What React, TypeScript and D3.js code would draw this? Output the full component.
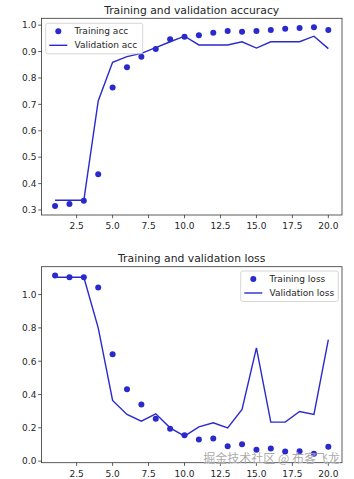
import React from "react";
import * as d3 from "d3";

const epochs = d3.range(1, 21);
const trainAcc = [0.315, 0.323, 0.335, 0.435, 0.764, 0.841, 0.880, 0.910, 0.947, 0.956, 0.962, 0.971, 0.978, 0.975, 0.978, 0.982, 0.986, 0.989, 0.992, 0.982];
const valAcc = [0.337, 0.337, 0.337, 0.713, 0.859, 0.881, 0.893, 0.915, 0.937, 0.958, 0.925, 0.925, 0.925, 0.937, 0.913, 0.937, 0.937, 0.937, 0.958, 0.911];
const trainLoss = [1.114, 1.104, 1.104, 1.042, 0.642, 0.432, 0.34, 0.254, 0.194, 0.156, 0.13, 0.136, 0.09, 0.102, 0.068, 0.076, 0.058, 0.06, 0.044, 0.086];
const valLoss = [1.104, 1.104, 1.104, 0.80, 0.364, 0.28, 0.24, 0.284, 0.2, 0.15, 0.206, 0.23, 0.2, 0.31, 0.68, 0.234, 0.234, 0.298, 0.28, 0.73];
const xTicks = [2.5, 5.0, 7.5, 10.0, 12.5, 15.0, 17.5, 20.0];
const accTicks = [0.3, 0.4, 0.5, 0.6, 0.7, 0.8, 0.9, 1.0];
const lossTicks = [0.0, 0.2, 0.4, 0.6, 0.8, 1.0];

const COLOR = "#2a2acc";
const FONT = "DejaVu Sans";
const TEXT = "#262626";

type PanelProps = {
  top: number;
  height: number;
  title: string;
  train: number[];
  val: number[];
  yTicks: number[];
  labels: [string, string];
  legend: { x: number; y: number; w: number };
};

function Panel({ top, height, title, train, val, yTicks, labels, legend }: PanelProps) {
  const left = 41.4;
  const right = 342;
  const all = train.concat(val);
  const lo = d3.min(all)!;
  const hi = d3.max(all)!;
  const pad = (hi - lo) * 0.05;
  const x = d3.scaleLinear().domain([0.05, 20.95]).range([left, right]);
  const y = d3.scaleLinear().domain([lo - pad, hi + pad]).range([top + height, top]);
  const line = d3
    .line<number>()
    .x((_, i) => x(epochs[i]))
    .y((d) => y(d));
  const bottom = top + height;
  return (
    <g>
      <text x={(left + right) / 2} y={top - 4.5} textAnchor="middle" fontFamily={FONT} fontSize={10.8} fill={TEXT}>
        {title}
      </text>
      <path d={line(val) || ""} fill="none" stroke={COLOR} strokeWidth={1.4} />
      {train.map((d, i) => (
        <circle key={i} cx={x(epochs[i])} cy={y(d)} r={3} fill={COLOR} />
      ))}
      <rect x={left} y={top} width={right - left} height={height} fill="none" stroke="#333" strokeWidth={0.8} />
      {xTicks.map((t) => (
        <g key={t}>
          <line x1={x(t)} x2={x(t)} y1={bottom} y2={bottom + 3.2} stroke="#333" strokeWidth={0.8} />
          <text x={x(t)} y={bottom + 14} textAnchor="middle" fontFamily={FONT} fontSize={9} fill={TEXT}>
            {d3.format(".1f")(t)}
          </text>
        </g>
      ))}
      {yTicks.map((t) => (
        <g key={t}>
          <line x1={left - 3.2} x2={left} y1={y(t)} y2={y(t)} stroke="#333" strokeWidth={0.8} />
          <text x={left - 5} y={y(t) + 3.3} textAnchor="end" fontFamily={FONT} fontSize={9} fill={TEXT}>
            {d3.format(".1f")(t)}
          </text>
        </g>
      ))}
      <g transform={`translate(${legend.x},${legend.y})`}>
        <rect x={0} y={0} width={legend.w} height={30.5} rx={2} fill="white" fillOpacity={0.8} stroke="#cccccc" strokeWidth={0.8} />
        <circle cx={12.6} cy={8} r={3} fill={COLOR} />
        <line x1={3.6} x2={21.6} y1={22} y2={22} stroke={COLOR} strokeWidth={1.4} />
        <text x={28.8} y={11.2} fontFamily={FONT} fontSize={9} fill={TEXT}>
          {labels[0]}
        </text>
        <text x={28.8} y={25.2} fontFamily={FONT} fontSize={9} fill={TEXT}>
          {labels[1]}
        </text>
      </g>
    </g>
  );
}

export default function App() {
  return (
    <svg width={354} height={479} style={{ position: "absolute", left: 0, top: 0, background: "white" }}>
      <rect width={354} height={479} fill="white" />
      <Panel
        top={18.3}
        height={196.7}
        title="Training and validation accuracy"
        train={trainAcc}
        val={valAcc}
        yTicks={accTicks}
        labels={["Training acc", "Validation acc"]}
        legend={{ x: 45.7, y: 23.3, w: 97 }}
      />
      <Panel
        top={266.7}
        height={196}
        title="Training and validation loss"
        train={trainLoss}
        val={valLoss}
        yTicks={lossTicks}
        labels={["Training loss", "Validation loss"]}
        legend={{ x: 240.7, y: 271, w: 97.6 }}
      />
      <text
        x={340}
        y={463}
        textAnchor="end"
        fontFamily="Noto Sans CJK SC"
        fontSize={12}
        fill="#9a9a9a"
        fillOpacity={0.85}
        stroke="white"
        strokeWidth={0.6}
        strokeOpacity={0.6}
        paintOrder="stroke"
      >
        掘金技术社区 @ 布客飞龙
      </text>
    </svg>
  );
}
